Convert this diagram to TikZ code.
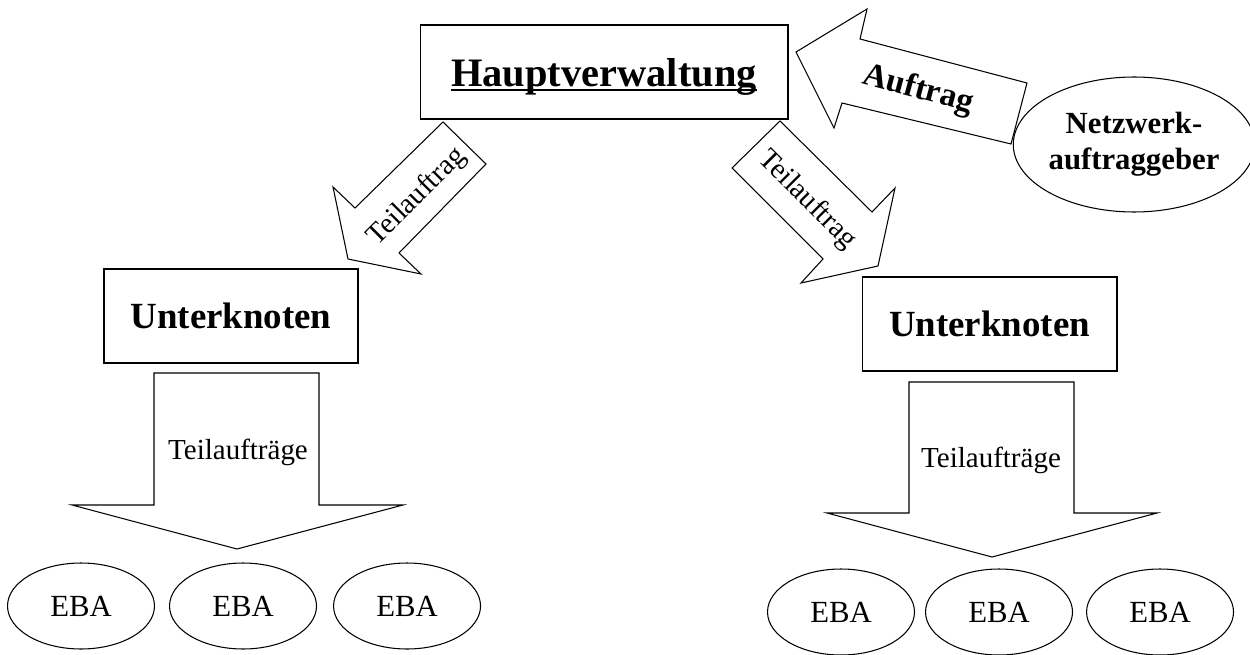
\documentclass[tikz,border=0pt]{standalone}
\usepackage{fontspec}
\setmainfont{Liberation Serif}
\usetikzlibrary{shapes.geometric, positioning}

\newcommand\hvunderline[1]{\setbox0\hbox{#1}\rlap{\vrule height -1.6pt depth 3.1pt width \wd0}\box0}

\begin{document}
\begin{tikzpicture}[x=0.02cm, y=-0.02cm, line width=0.6pt,
    box/.style={draw, rectangle, minimum width=5.08cm, minimum height=1.88cm, text depth=0pt},
    eba/.style={draw, ellipse, minimum width=2.94cm, minimum height=1.72cm, inner sep=0pt, text depth=0pt, font=\fontsize{17.5}{20}\selectfont},
    blockarrow/.style={draw, line join=miter},
    arrowtext/.style={inner sep=0pt, font=\fontsize{16.5}{19}\selectfont}]

  \useasboundingbox (0,0) rectangle (1250,655);

  \node[box, minimum width=7.36cm, font=\fontsize{23}{26}\selectfont\bfseries] (hv) at (604,72) {\hvunderline{Hauptverwaltung}};
  \node[box, font=\fontsize{21}{24}\selectfont\bfseries] (ukleft) at (231,316) {Unterknoten};
  \node[box, minimum width=5.1cm, font=\fontsize{21}{24}\selectfont\bfseries] (ukright) at (989.5,324) {Unterknoten};
  \node[draw, ellipse, minimum width=4.56cm, minimum height=2.7cm, inner sep=0pt, align=center, font=\fontsize{17.5}{20.5}\selectfont\bfseries] (kunde) at (1134,144.5) {Netzwerk-\\auftraggeber};

  % Auftrag
  \draw[blockarrow] (796,52) -- (867,9) -- (860,39) -- (1027,83) -- (1011,144) -- (842,103) -- (834,128) -- cycle;
  \node[inner sep=0pt, rotate=-15, font=\fontsize{19}{22}\selectfont\bfseries] (auftrag) at (918,90) {Auftrag};

  % Teilauftraege an die Unterknoten
  \draw[blockarrow] (443,122) -- (486,164) -- (399,253) -- (421,274) -- (348,259) -- (333,187) -- (355,208) -- cycle;
  \node[arrowtext, rotate=45] (taleft) at (417,197) {Teilauftrag};
  \draw[blockarrow] (780,121) -- (732,168) -- (823,259) -- (801,283) -- (878,266) -- (895,188) -- (872,212) -- cycle;
  \node[arrowtext, rotate=-45] (taright) at (807,200) {Teilauftrag};

  \draw[blockarrow] (154,373) -- (319,373) -- (319,505) -- (403,505) -- (237,549) -- (72,505) -- (154,505) -- cycle;
  \node[arrowtext] (tasleft) at (238,452) {Teilaufträge};
  \draw[blockarrow] (909,382) -- (1074,382) -- (1074,513) -- (1157,513) -- (992,557) -- (827,513) -- (909,513) -- cycle;
  \node[arrowtext] (tasright) at (991,460) {Teilaufträge};

  \node[eba] (ebal1) at (81,606) {EBA};
  \node[eba, right=0.28cm of ebal1] (ebal2) {EBA};
  \node[eba, right=0.32cm of ebal2] (ebal3) {EBA};

  \node[eba] (ebar1) at (841,612) {EBA};
  \node[eba, right=0.2cm of ebar1] (ebar2) {EBA};
  \node[eba, right=0.26cm of ebar2] (ebar3) {EBA};

\end{tikzpicture}
\end{document}
